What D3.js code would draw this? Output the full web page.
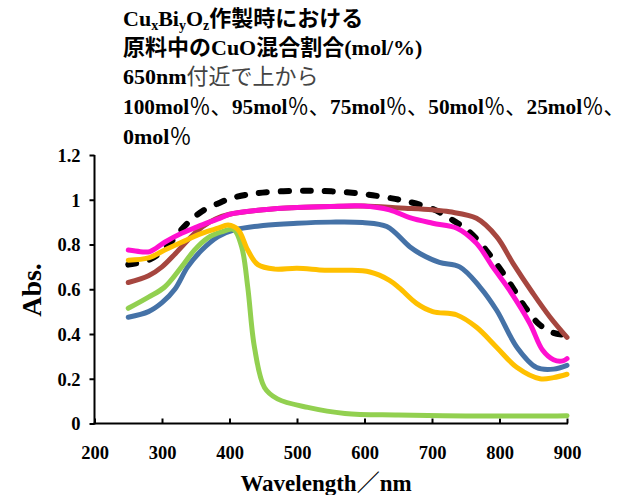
<!DOCTYPE html>
<html><head><meta charset="utf-8">
<script src="https://cdn.jsdelivr.net/npm/d3@7"></script>
<style>
html,body{margin:0;padding:0;background:#fff;}
svg{display:block;}
text{font-family:'Liberation Serif','Noto Sans CJK JP',serif;}
</style></head>
<body>
<svg id="chart" width="636" height="495"></svg>
<script>
// ---- data ----
const xTicks = [200,300,400,500,600,700,800,900];
const yTicks = [0,0.2,0.4,0.6,0.8,1,1.2];
const yTickLabels = ["0","0.2","0.4","0.6","0.8","1","1.2"];

const wl100 = [250,280,300,316,336,360,388,400,430,460,500,530,566,600,633,660,700,730,756,780,800,820,838,860,880,900];
const ab100 = [0.71,0.73,0.77,0.82,0.89,0.95,0.99,1.005,1.025,1.035,1.04,1.04,1.035,1.025,1.01,0.995,0.96,0.91,0.855,0.775,0.695,0.605,0.52,0.44,0.405,0.395];

const wl95 = [250,280,300,320,345,360,380,400,450,500,550,600,653,700,726,766,796,820,850,875,900];
const ab95 = [0.63,0.66,0.70,0.76,0.84,0.88,0.915,0.935,0.955,0.965,0.97,0.972,0.963,0.955,0.946,0.917,0.834,0.716,0.58,0.475,0.385];

const wl75 = [250,268,282,304,329,353,388,400,450,500,550,597,637,667,701,737,766,790,815,845,864,880,894,900];
const ab75 = [0.775,0.768,0.768,0.81,0.85,0.88,0.92,0.935,0.955,0.965,0.97,0.972,0.955,0.92,0.895,0.873,0.805,0.70,0.595,0.447,0.327,0.285,0.28,0.29];

const wl50 = [250,280,300,319,338,359,383,407,450,500,550,597,633,667,682,711,741,771,796,826,855,880,900];
const ab50 = [0.475,0.50,0.54,0.60,0.70,0.775,0.835,0.865,0.885,0.895,0.90,0.898,0.88,0.79,0.76,0.72,0.70,0.61,0.505,0.34,0.25,0.243,0.26];

const wl25 = [250,280,304,329,359,383,398,413,427,442,467,500,541,574,608,637,652,677,701,737,766,796,826,860,880,900];
const ab25 = [0.73,0.74,0.775,0.81,0.85,0.873,0.887,0.865,0.775,0.71,0.69,0.694,0.685,0.685,0.677,0.64,0.605,0.537,0.50,0.485,0.43,0.34,0.25,0.20,0.205,0.22];

const wl0 = [250,280,304,329,348,368,388,406,418,427,437,452,471,516,571,650,750,850,900];
const ab0 = [0.515,0.565,0.61,0.70,0.775,0.83,0.856,0.867,0.79,0.61,0.34,0.16,0.11,0.072,0.045,0.038,0.034,0.033,0.035];

const series = [
  {name:"100mol%", wl:wl100, ab:ab100, color:"#000000", dash:true},
  {name:"95mol%",  wl:wl95,  ab:ab95,  color:"#a6463f"},
  {name:"50mol%",  wl:wl50,  ab:ab50,  color:"#4572a7"},
  {name:"0mol%",   wl:wl0,   ab:ab0,   color:"#92d050"},
  {name:"25mol%",  wl:wl25,  ab:ab25,  color:"#ffc000"},
  {name:"75mol%",  wl:wl75,  ab:ab75,  color:"#ff10d0"}
];

// ---- layout ----
const svg = d3.select("#chart");
const x = d3.scaleLinear().domain([200,900]).range([94.5,567]);
const y = d3.scaleLinear().domain([0,1.2]).range([423.5,155]);

// title
const title = svg.append("g").attr("font-size",22).attr("font-weight","bold").attr("fill","#000");
const t1 = title.append("text").attr("x",123).attr("y",26);
t1.append("tspan").text("Cu");
t1.append("tspan").attr("font-size",14).attr("dy",4).text("x");
t1.append("tspan").attr("dy",-4).text("Bi");
t1.append("tspan").attr("font-size",14).attr("dy",4).text("y");
t1.append("tspan").attr("dy",-4).text("O");
t1.append("tspan").attr("font-size",14).attr("dy",4).text("z");
t1.append("tspan").attr("dy",-4).text("作製時における");
title.append("text").attr("x",123).attr("y",55).text("原料中のCuO混合割合(mol/%)");
const t3 = title.append("text").attr("x",123).attr("y",84);
t3.append("tspan").text("650nm");
t3.append("tspan").attr("font-weight","normal").attr("fill","#444").text("付近で上から");
const t4 = title.append("text").attr("x",123).attr("y",114).attr("font-size",21.3);
["100","95","75","50","25"].forEach(v=>{
  t4.append("tspan").text(v+"mol");
  t4.append("tspan").attr("font-weight","normal").text("％、");
});
const t5 = title.append("text").attr("x",123).attr("y",144);
t5.append("tspan").text("0mol");
t5.append("tspan").attr("font-weight","normal").text("％");

// axes
const yAxis = d3.axisLeft(y).tickValues(yTicks).tickSize(5).tickPadding(9)
  .tickFormat((d,i)=>yTickLabels[i]);
const gy = svg.append("g").attr("transform","translate(94.5,0)").call(yAxis);
const xAxis = d3.axisBottom(x).tickValues(xTicks).tickSize(-5).tickPadding(22).tickFormat(d3.format("d"));
const gx = svg.append("g").attr("transform","translate(0,423.5)").call(xAxis);
[gx,gy].forEach(g=>{
  g.select(".domain").remove();
  g.selectAll(".tick line").attr("stroke","#000").attr("stroke-width",2);
  g.selectAll(".tick text").attr("font-size",18.5).attr("font-weight","bold")
    .attr("font-family","'Liberation Serif',serif").attr("fill","#000");
});
gy.selectAll(".tick text").attr("dy","0.34em");
svg.append("line").attr("x1",94.5).attr("x2",94.5).attr("y1",155).attr("y2",424.5).attr("stroke","#000").attr("stroke-width",2);
svg.append("line").attr("x1",93.5).attr("x2",568).attr("y1",423.5).attr("y2",423.5).attr("stroke","#000").attr("stroke-width",2);

// axis titles
svg.append("text").attr("x",326).attr("y",491).attr("text-anchor","middle")
  .attr("font-size",23).attr("font-weight","bold").text("Wavelength／nm");
svg.append("text").attr("transform","translate(41,290) rotate(-90)").attr("text-anchor","middle")
  .attr("font-size",28).attr("font-weight","bold").text("Abs.");

// lines
const line = d3.line().x(d=>x(d[0])).y(d=>y(d[1])).curve(d3.curveCatmullRom.alpha(0.5));
series.forEach(s=>{
  const pts = s.wl.map((w,i)=>[w,s.ab[i]]);
  const p = svg.append("path").datum(pts).attr("d",line)
    .attr("fill","none").attr("stroke",s.color).attr("stroke-linejoin","round");
  if(s.dash){
    p.attr("stroke-width",6).attr("stroke-dasharray","8 14").attr("stroke-linecap","round");
  } else {
    p.attr("stroke-width",5).attr("stroke-linecap","round");
  }
});
</script>
</body></html>
